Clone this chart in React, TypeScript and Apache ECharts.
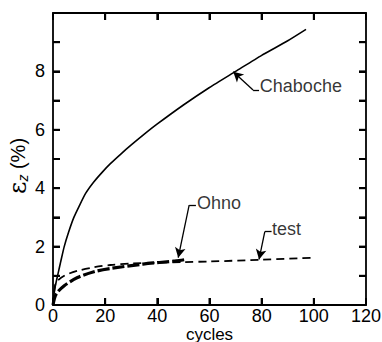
import React, { useEffect, useRef } from "react";
import * as echarts from "echarts";

// x: cycles, y: axial strain εz (%)
const chabocheX = [0, 0.5, 1, 2, 3, 4.3, 6, 8, 10, 12.5, 15.7, 19, 22, 26, 30, 35, 40, 50, 60, 70, 80, 90, 97];
const chabocheY = [0, 0.45, 0.7, 1.1, 1.5, 2.0, 2.5, 3.0, 3.38, 3.82, 4.22, 4.56, 4.84, 5.17, 5.48, 5.85, 6.2, 6.85, 7.45, 8.0, 8.55, 9.05, 9.44];

const ohnoX = [0, 1.2, 4.3, 9.4, 15.7, 22, 34.5, 47, 50.3];
const ohnoY = [0, 0.37, 0.66, 0.94, 1.14, 1.25, 1.4, 1.51, 1.55];

const testX = [0, 0.5, 1.2, 4.3, 9.4, 15.7, 22, 30, 40, 50, 60, 80, 100];
const testY = [0, 0.5, 0.77, 1.0, 1.17, 1.29, 1.37, 1.42, 1.45, 1.47, 1.49, 1.55, 1.62];

const xTicks = [0, 20, 40, 60, 80, 100, 120];
const yTicks = [0, 1, 2, 3, 4, 5, 6, 7, 8, 9, 10];
const yLabelValues = [0, 2, 4, 6, 8];

// annotation: label name, label anchor, leader elbow, arrow tip (data coords)
const annNames = ["Chaboche", "Ohno", "test"];
const annLabel = [[79.3, 7.5], [55.2, 3.5], [84, 2.6]];
const annHook = [[79, 7.36], [54.8, 3.42], [83.8, 2.51]];
const annElbow = [[76.7, 7.36], [52.2, 3.42], [81.2, 2.51]];
const annTip = [[69.1, 7.99], [48, 1.62], [79, 1.56]];

const X_MIN = 0, X_MAX = 120, Y_MIN = 0, Y_MAX = 10;
const FONT = "'Liberation Sans', Arial, Helvetica, sans-serif";
const INK = "#000000";
const TICK_LEN = 7;

const zip = (xs: number[], ys: number[]) => xs.map((x, i) => [x, ys[i]]);

// tick marks on all four sides of the frame: [x, y, side]
const tickData = [
  ...xTicks.filter((v) => v > X_MIN && v < X_MAX).map((v) => [v, Y_MIN, 0]),
  ...xTicks.filter((v) => v > X_MIN && v < X_MAX).map((v) => [v, Y_MAX, 1]),
  ...yTicks.filter((v) => v > Y_MIN && v < Y_MAX).map((v) => [X_MIN, v, 2]),
  ...yTicks.filter((v) => v > Y_MIN && v < Y_MAX).map((v) => [X_MAX, v, 3]),
];

export default function App() {
  const ref = useRef<HTMLDivElement>(null);
  useEffect(() => {
    if (!ref.current) return;
    const chart = echarts.init(ref.current, undefined, { renderer: "svg" });

    const line = () => ({ show: true, onZero: false, lineStyle: { color: INK, width: 1.8 } });
    const tick = () => ({ show: true, inside: true, length: TICK_LEN, lineStyle: { color: INK, width: 2 } });

    const markLines = annNames
      .map((_, i) => [
        [
          { coord: annHook[i], symbol: "none" },
          { coord: annElbow[i], symbol: "none" },
        ],
        [
          { coord: annElbow[i], symbol: "none" },
          { coord: annTip[i], symbol: "arrow" },
        ],
      ])
      .flat();

    chart.setOption({
      animation: false,
      grid: { left: 53, right: 16, top: 13, bottom: 37, outerBoundsMode: "none" },
      xAxis: [
        {
          type: "value",
          min: X_MIN,
          max: X_MAX,
          interval: 20,
          splitLine: { show: false },
          axisLine: line(),
          axisTick: tick(),
          axisLabel: {
            show: true,
            margin: 2,
            fontSize: 18,
            color: INK,
            fontFamily: FONT,
            formatter: (v: number) => (xTicks.includes(v) ? String(v) : ""),
          },
          name: "cycles",
          nameLocation: "middle",
          nameGap: 21,
          nameMoveOverlap: false,
          nameTextStyle: { fontSize: 17, lineHeight: 16, color: INK, fontFamily: FONT },
        },
        {
          type: "value",
          position: "top",
          min: X_MIN,
          max: X_MAX,
          interval: 20,
          splitLine: { show: false },
          axisLine: line(),
          axisTick: tick(),
          axisLabel: { show: false },
        },
      ],
      yAxis: [
        {
          type: "value",
          min: Y_MIN,
          max: Y_MAX,
          interval: 1,
          splitLine: { show: false },
          axisLine: line(),
          axisTick: tick(),
          axisLabel: {
            show: true,
            margin: 8,
            fontSize: 18,
            color: INK,
            fontFamily: FONT,
            formatter: (v: number) => (yLabelValues.includes(v) ? String(v) : ""),
          },
        },
        {
          type: "value",
          position: "right",
          min: Y_MIN,
          max: Y_MAX,
          interval: 1,
          splitLine: { show: false },
          axisLine: line(),
          axisTick: tick(),
          axisLabel: { show: false },
        },
      ],
      graphic: [
        {
          type: "text",
          x: 18,
          y: 166,
          rotation: Math.PI / 2,
          style: {
            text: "{e|ε}{s|z}{p| (%)}",
            align: "center",
            verticalAlign: "middle",
            fill: INK,
            rich: {
              e: { fontSize: 24, fontFamily: "'DejaVu Serif', serif", fill: INK },
              s: { fontSize: 14, fontStyle: "italic", fontFamily: FONT, fill: INK, padding: [9, 0, 0, 0] },
              p: { fontSize: 20, fontFamily: FONT, fill: INK },
            },
          },
        },
      ],
      series: [
        {
          name: "ticks",
          type: "custom",
          silent: true,
          clip: false,
          z: 10,
          data: tickData,
          renderItem: (_params: any, api: any) => {
            const p = api.coord([api.value(0), api.value(1)]);
            const side = api.value(2);
            const d = [
              [0, -TICK_LEN],
              [0, TICK_LEN],
              [TICK_LEN, 0],
              [-TICK_LEN, 0],
            ][side];
            return {
              type: "line",
              shape: { x1: p[0], y1: p[1], x2: p[0] + d[0], y2: p[1] + d[1] },
              style: { stroke: INK, lineWidth: 2 },
            };
          },
        },
        {
          name: "Chaboche",
          type: "line",
          data: zip(chabocheX, chabocheY),
          smooth: 0.2,
          showSymbol: false,
          lineStyle: { color: INK, width: 1.6, type: "solid" },
          markLine: {
            silent: true,
            symbolSize: [8, 10],
            label: { show: false },
            lineStyle: { color: INK, width: 1.3, type: "solid" },
            data: markLines,
          },
        },
        {
          name: "Ohno",
          type: "line",
          data: zip(ohnoX, ohnoY),
          smooth: 0.3,
          showSymbol: false,
          lineStyle: { color: INK, width: 3.2, type: [12, 3] },
        },
        {
          name: "test",
          type: "line",
          data: zip(testX, testY),
          smooth: 0.3,
          showSymbol: false,
          lineStyle: { color: INK, width: 1.8, type: [8, 5] },
        },
        {
          name: "labels",
          type: "scatter",
          symbolSize: 0,
          silent: true,
          data: annNames.map((n, i) => [annLabel[i][0], annLabel[i][1], n]),
          label: {
            show: true,
            position: "right",
            distance: 0,
            fontSize: 18,
            color: INK,
            fontFamily: FONT,
            formatter: (p: any) => p.data[2],
          },
        },
      ],
    });
    return () => chart.dispose();
  }, []);
  return (
    <div
      ref={ref}
      style={{ position: "absolute", left: 0, top: 0, width: 382, height: 342, background: "#fff" }}
    />
  );
}
